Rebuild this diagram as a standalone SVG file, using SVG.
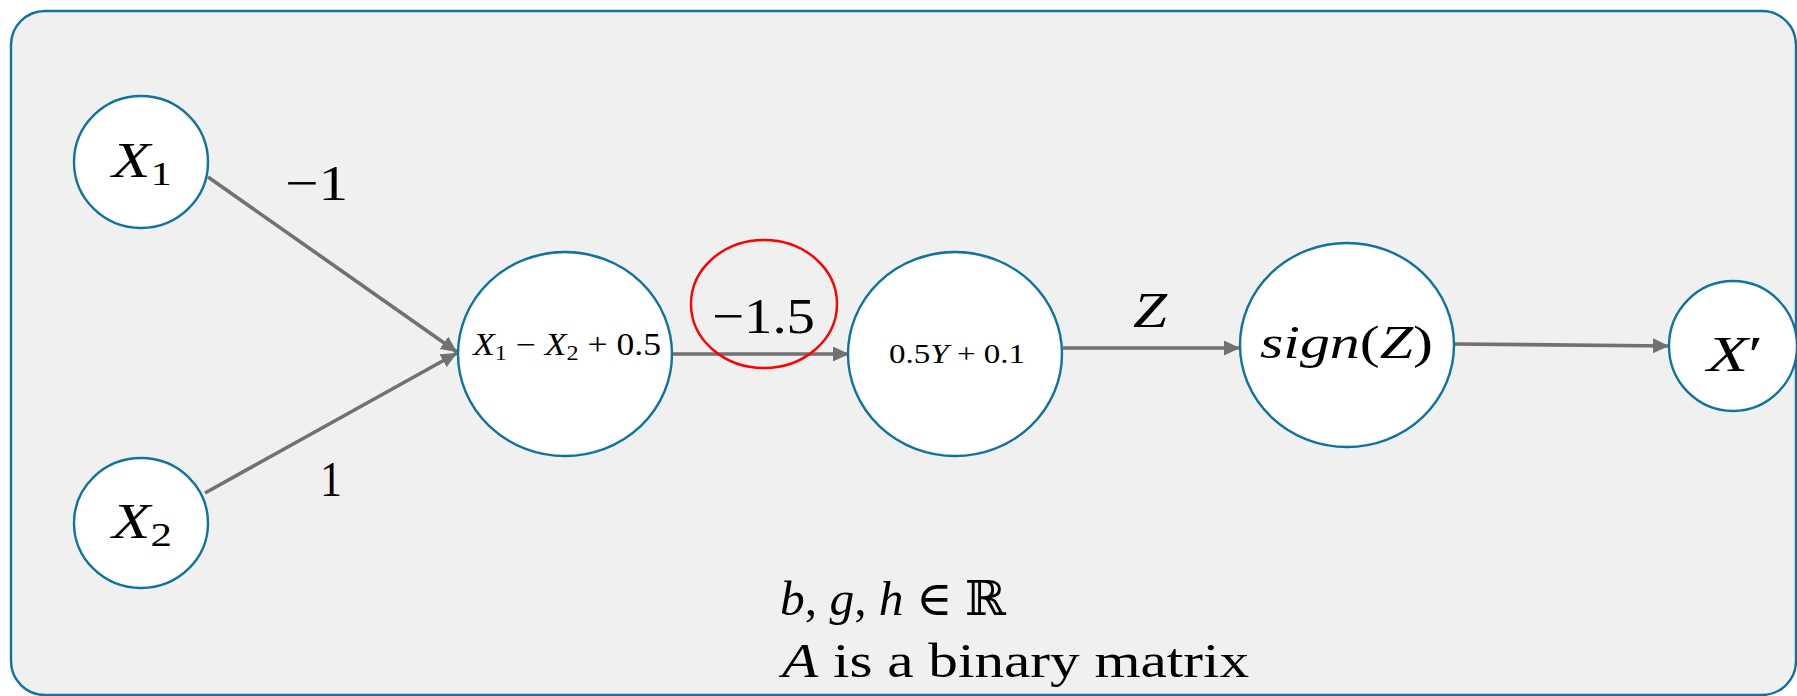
<svg xmlns="http://www.w3.org/2000/svg" width="1797" height="696" viewBox="0 0 1797 696">
<style>
.node{fill:#ffffff;stroke:#10739E;stroke-width:2.4}
.edge{fill:none;stroke:#717171;stroke-width:3.6}
.t{font-family:"Liberation Serif","DejaVu Serif",serif;fill:#000000}
.i{font-style:italic}
.sub{font-style:normal}
</style>
<defs>
<marker id="arr" markerUnits="userSpaceOnUse" markerWidth="18" markerHeight="16" refX="16" refY="7.5" orient="auto">
<path d="M0,0 L16,7.5 L0,15 Z" fill="#717171"/>
</marker>
</defs>
<rect x="11" y="11" width="1785" height="684" rx="34" ry="34" fill="#f0f0f0" stroke="#10739E" stroke-width="2.4"/>
<g id="connectors">
<line class="edge" x1="208" y1="177" x2="457" y2="352" marker-end="url(#arr)"/>
<line class="edge" x1="205" y1="493" x2="457" y2="353" marker-end="url(#arr)"/>
<line class="edge" x1="672" y1="354" x2="849" y2="354" marker-end="url(#arr)"/>
<line class="edge" x1="1063" y1="348" x2="1240" y2="348" marker-end="url(#arr)"/>
<line class="edge" x1="1454" y1="344" x2="1669" y2="346" marker-end="url(#arr)"/>
<text class="t" x="285" y="200" font-size="50" textLength="63" lengthAdjust="spacingAndGlyphs">−1</text>
<text class="t" x="320" y="496" font-size="50" textLength="22" lengthAdjust="spacingAndGlyphs">1</text>
<text class="t" x="712" y="333" font-size="50" textLength="103" lengthAdjust="spacingAndGlyphs">−1.5</text>
<text class="t i" x="1133" y="327" font-size="50" textLength="34" lengthAdjust="spacingAndGlyphs">Z</text>
</g>
<g id="node-x1">
<ellipse class="node" cx="141" cy="162" rx="67" ry="66"/>
<text class="t" x="112" y="177" font-size="50" textLength="60" lengthAdjust="spacingAndGlyphs"><tspan class="i">X</tspan><tspan class="sub" font-size="34" dy="8">1</tspan></text>
</g>
<g id="node-x2">
<ellipse class="node" cx="141" cy="523" rx="67" ry="65"/>
<text class="t" x="112" y="538" font-size="50" textLength="60" lengthAdjust="spacingAndGlyphs"><tspan class="i">X</tspan><tspan class="sub" font-size="34" dy="8">2</tspan></text>
</g>
<g id="node-a">
<ellipse class="node" cx="565" cy="354" rx="107" ry="102"/>
<text class="t" x="473" y="355" font-size="31" textLength="188" lengthAdjust="spacingAndGlyphs"><tspan class="i">X</tspan><tspan font-size="21" dy="5">1</tspan><tspan dy="-5"> − </tspan><tspan class="i">X</tspan><tspan font-size="21" dy="5">2</tspan><tspan dy="-5"> + 0.5</tspan></text>
</g>
<g id="highlight">
<ellipse cx="764" cy="304" rx="73" ry="64" fill="none" stroke="#ff0000" stroke-width="2.4"/>
</g>
<g id="node-b">
<ellipse class="node" cx="955" cy="354" rx="107" ry="102"/>
<text class="t" x="889" y="363" font-size="27" textLength="136" lengthAdjust="spacingAndGlyphs">0.5<tspan class="i">Y</tspan> + 0.1</text>
</g>
<g id="node-sign">
<ellipse class="node" cx="1347" cy="345" rx="107" ry="102"/>
<text class="t" x="1260" y="358" font-size="46" textLength="173" lengthAdjust="spacingAndGlyphs"><tspan class="i">sign</tspan>(<tspan class="i">Z</tspan>)</text>
</g>
<g id="node-xprime">
<ellipse class="node" cx="1733" cy="346" rx="64" ry="65"/>
<text class="t" x="1707" y="371" font-size="50" textLength="56" lengthAdjust="spacingAndGlyphs"><tspan class="i">X</tspan>′</text>
</g>
<g id="note">
<text class="t" x="780" y="615" font-size="48" textLength="226" lengthAdjust="spacingAndGlyphs"><tspan class="i">b</tspan>, <tspan class="i">g</tspan>, <tspan class="i">h</tspan> ∈ ℝ</text>
<text class="t" x="782" y="677" font-size="48" textLength="467" lengthAdjust="spacingAndGlyphs"><tspan class="i">A</tspan> is a binary matrix</text>
</g>
</svg>
